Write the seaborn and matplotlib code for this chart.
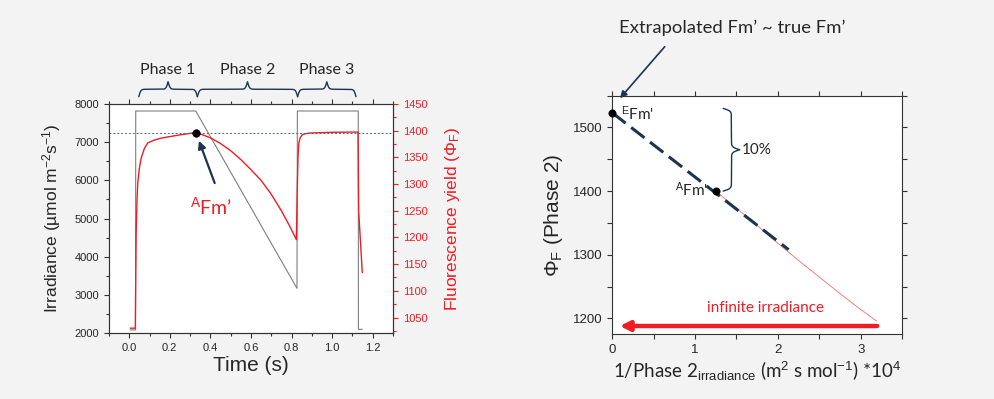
import numpy as np
import pandas as pd
import matplotlib
matplotlib.use("Agg")
import matplotlib.pyplot as plt
from matplotlib.ticker import MultipleLocator, FormatStrFormatter
import seaborn as sns

sns.set_theme(style="ticks")
plt.rcParams['font.family'] = ['Liberation Sans', 'DejaVu Sans']
plt.rcParams['mathtext.fontset'] = 'custom'
plt.rcParams['mathtext.rm'] = 'Liberation Sans'
plt.rcParams['mathtext.it'] = 'Liberation Sans:italic'

# ---------------- data: left panel (time course) ----------------
irr_time = [0.005, 0.031, 0.032, 0.328, 0.827, 0.829, 1.129, 1.130, 1.149]
irr_value = [2080, 2080, 7817, 7817, 3170, 7817, 7817, 2097, 2097]

fl_time = [0.005, 0.030, 0.032, 0.034, 0.038, 0.042, 0.05, 0.059, 0.075, 0.091,
           0.12, 0.157, 0.2, 0.255, 0.3, 0.328, 0.36, 0.40, 0.45, 0.50, 0.55,
           0.60, 0.65, 0.70, 0.75, 0.79, 0.824, 0.829, 0.832, 0.836, 0.843,
           0.853, 0.87, 0.892, 1.0, 1.128, 1.131, 1.149]
fl_value = [1030, 1030, 1120, 1208, 1265, 1302, 1330, 1349, 1367, 1377,
            1382, 1386, 1389, 1392.5, 1395, 1396, 1392.6, 1386.7, 1376, 1362.6,
            1346, 1327, 1307, 1281, 1250, 1222, 1196, 1300, 1350, 1377, 1387,
            1392.5, 1394.5, 1395.7, 1397, 1397.5, 1250, 1134]

afm_time, afm_value = 0.328, 1396
ref_level = 1396
phase_names = ["Phase 1", "Phase 2", "Phase 3"]
phase_bounds = [(0.047, 0.336), (0.336, 0.83), (0.83, 1.118)]

# ---------------- data: right panel (extrapolation) ----------------
inv_irr = [1.25, 1.5, 1.75, 2.0, 2.25, 2.5, 2.75, 3.0, 3.19]
phi_f = [1400, 1373, 1346, 1318, 1291, 1265, 1239, 1214, 1196]
extrap_x = [0.0, 2.13]
extrap_y = [1523, 1308]
dots_x = [0.0, 1.25]
dots_y = [1523, 1400]

BG = '#f3f3f3'
NAVY = '#1c3454'
RED = '#ee1c25'
ANNOT_FONT = ['Lato', 'DejaVu Sans']


def brace(ax, lo, hi, base, height, beta, transform, vertical=False, **kw):
    # curly brace made of two logistic halves
    n = 401
    t = np.linspace(lo, hi, n)
    half = t[:n // 2 + 1]
    yh = 1 / (1 + np.exp(-beta * (half - half[0]))) + 1 / (1 + np.exp(-beta * (half - half[-1])))
    yb = np.concatenate((yh, yh[-2::-1]))
    v = base + (yb - 0.5) * height
    if vertical:
        ax.plot(v, t, transform=transform, clip_on=False, **kw)
    else:
        ax.plot(t, v, transform=transform, clip_on=False, **kw)


fig = plt.figure(figsize=(9.95, 3.99), dpi=100, facecolor=BG)

# ================= left panel =================
ax = fig.add_axes([0.1095, 0.1654, 0.2854, 0.5739])
ax.set_facecolor('white')
irr_df = pd.DataFrame({'t': irr_time, 'v': irr_value})
sns.lineplot(data=irr_df, x='t', y='v', ax=ax, color='#7f7f7f', lw=0.8,
             sort=False, estimator=None)
ax.set_xlim(-0.1, 1.3)
ax.set_ylim(2000, 8000)
ax.xaxis.set_major_locator(MultipleLocator(0.2))
ax.xaxis.set_minor_locator(MultipleLocator(0.1))
ax.yaxis.set_major_locator(MultipleLocator(1000))
ax.yaxis.set_minor_locator(MultipleLocator(500))
ax.xaxis.set_major_formatter(FormatStrFormatter('%.1f'))
ax.tick_params(which='both', direction='out', top=True, labelsize=8,
               color='#333333', width=0.8)
ax.tick_params(which='major', length=3.5)
ax.tick_params(which='minor', length=2)
ax.set_xlabel('Time (s)', fontsize=15, labelpad=2)
ax.set_ylabel('Irradiance (µmol m$^{-2}$s$^{-1}$)', fontsize=12.5, labelpad=8)
for s in ax.spines.values():
    s.set_color('#333333')
    s.set_linewidth(0.8)

ax2 = ax.twinx()
fl_df = pd.DataFrame({'t': fl_time, 'v': fl_value})
sns.lineplot(data=fl_df, x='t', y='v', ax=ax2, color=RED, lw=1.0,
             sort=False, estimator=None)
ax2.set_ylim(1021, 1450)
ax2.yaxis.set_major_locator(MultipleLocator(50))
ax2.yaxis.set_minor_locator(MultipleLocator(25))
ax2.tick_params(axis='y', which='both', direction='out', colors=RED,
                labelsize=8, width=0.8)
ax2.tick_params(axis='y', which='major', length=3.5)
ax2.tick_params(axis='y', which='minor', length=2)
ax2.set_ylabel('Fluorescence yield (Φ$_{\\mathrm{F}}$)', color=RED,
               fontsize=12.5, labelpad=11)
ax2.axhline(ref_level, color='#4f6b7a', lw=0.7, ls=(0, (2, 2)))
sns.scatterplot(x=[afm_time], y=[afm_value], ax=ax2, color='black', s=30,
                edgecolor='black', zorder=5)
ax2.annotate('', xy=(0.339, 1386), xytext=(0.426, 1297),
             arrowprops=dict(arrowstyle='-|>', color=NAVY, lw=1.6,
                             mutation_scale=11))
ax2.text(0.402, 1259, '$^{\\mathrm{A}}$Fm’', color=RED, fontsize=14,
         ha='center', va='center', family=ANNOT_FONT)
for s in ax2.spines.values():
    s.set_color('#333333')
    s.set_linewidth(0.8)

btr = ax.get_xaxis_transform()
for name, (lo, hi) in zip(phase_names, phase_bounds):
    brace(ax, lo, hi, 1.032, 0.065, 200, btr, color=NAVY, lw=1.0)
    ax.text((lo + hi) / 2, 1.148, name, transform=btr, ha='center',
            va='center', fontsize=11.5, family=ANNOT_FONT)

# ================= right panel =================
bx = fig.add_axes([0.6154, 0.1622, 0.2912, 0.598])
bx.set_facecolor('white')
sns.lineplot(x=inv_irr, y=phi_f, ax=bx, color='#f08080', lw=0.7,
             sort=False, estimator=None)
sns.lineplot(x=extrap_x, y=extrap_y, ax=bx, color=NAVY, lw=2.2,
             dashes=False, sort=False, estimator=None)
bx.lines[-1].set_linestyle((0, (5.5, 2.3)))
sns.scatterplot(x=dots_x, y=dots_y, ax=bx, color='black', s=28,
                edgecolor='black', zorder=5, clip_on=False)
bx.set_xlim(0, 3.5)
bx.set_ylim(1175, 1550)
bx.xaxis.set_major_locator(MultipleLocator(1))
bx.xaxis.set_minor_locator(MultipleLocator(0.5))
bx.yaxis.set_major_locator(MultipleLocator(100))
bx.yaxis.set_minor_locator(MultipleLocator(50))
bx.tick_params(which='both', direction='out', top=True, right=True,
               labelsize=9.5, color='#333333', width=0.8)
bx.tick_params(which='major', length=3.5)
bx.tick_params(which='minor', length=3.5)
for s in bx.spines.values():
    s.set_color('#333333')
    s.set_linewidth(0.8)
bx.set_ylabel('Φ$_{\\mathrm{F}}$ (Phase 2)', fontsize=15, labelpad=6)
bx.set_xlabel('1/Phase 2$_{\\mathrm{irradiance}}$ (m$^{2}$ s mol$^{-1}$) *10$^{4}$',
              fontsize=13.5, labelpad=3, family=ANNOT_FONT)

bx.text(0.11, 1522, '$^{\\mathrm{E}}$Fm\'', fontsize=11, ha='left',
        va='center', family=ANNOT_FONT)
bx.text(1.16, 1402, '$^{\\mathrm{A}}$Fm\'', fontsize=11, ha='right',
        va='center', family=ANNOT_FONT, zorder=6)
brace(bx, 1400, 1530, 1.339, 0.2, 0.5, bx.transData, vertical=True,
      color=NAVY, lw=1.0)
bx.text(1.565, 1465, '10%', fontsize=11, ha='left', va='center',
        family=ANNOT_FONT)

bx.annotate('', xy=(0.09, 1188), xytext=(3.2, 1188),
            arrowprops=dict(arrowstyle='-|>', color=RED, lw=3.2,
                            mutation_scale=14, shrinkA=0, shrinkB=0))
bx.text(1.856, 1216, 'infinite irradiance', color=RED, fontsize=11,
        ha='center', va='center', family=ANNOT_FONT)

bx.text(1.453, 1656, 'Extrapolated Fm’ ~ true Fm’', fontsize=13.3,
        ha='center', va='center', family=ANNOT_FONT, clip_on=False)
bx.annotate('', xy=(0.093, 1546), xytext=(0.633, 1627),
            annotation_clip=False,
            arrowprops=dict(arrowstyle='-|>', color=NAVY, lw=1.2,
                            mutation_scale=10, shrinkA=0, shrinkB=0))

fig.savefig('out.png', dpi=100, facecolor=BG)
